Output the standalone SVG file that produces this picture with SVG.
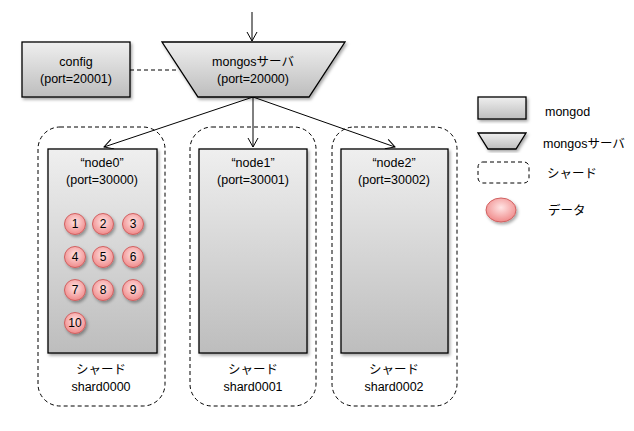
<svg xmlns="http://www.w3.org/2000/svg" width="634" height="431" viewBox="0 0 634 431">
<style>
text{font-family:"Liberation Sans","Noto Sans CJK JP",sans-serif;font-size:12.5px;fill:#000}
.c{text-anchor:middle}
.box{fill:url(#g);stroke:#000;stroke-width:1.3}
.shard{fill:none;stroke:#000;stroke-width:1;stroke-dasharray:4,3}
.data{fill:url(#pg);stroke:#d06060;stroke-width:1}
.num{font-size:12px;text-anchor:middle}
.ln{stroke:#000;stroke-width:1;fill:none}
</style>
<defs>
<linearGradient id="g" x1="0" y1="0" x2="0" y2="1"><stop offset="0" stop-color="#efefef"/><stop offset="1" stop-color="#bdbdbd"/></linearGradient>
<radialGradient id="pg" cx="0.5" cy="0.4" r="0.6"><stop offset="0" stop-color="#ffe4e4"/><stop offset="1" stop-color="#f08a8a"/></radialGradient>
<filter id="sh" x="-10%" y="-10%" width="130%" height="130%"><feDropShadow dx="1.5" dy="2" stdDeviation="1.5" flood-opacity="0.35"/></filter>
<marker id="ar" markerWidth="12" markerHeight="12" refX="10" refY="6" orient="auto" markerUnits="userSpaceOnUse"><path d="M1,1 L10,6 L1,11" fill="none" stroke="#000" stroke-width="1"/></marker>
</defs>
<g id="connectors">
<line class="ln" x1="252" y1="12" x2="252" y2="41" marker-end="url(#ar)"/>
<line class="ln" x1="130" y1="70" x2="179" y2="70" stroke-dasharray="4,3"/>
<line class="ln" x1="253" y1="97" x2="104" y2="147" marker-end="url(#ar)"/>
<line class="ln" x1="253" y1="97" x2="253" y2="147" marker-end="url(#ar)"/>
<line class="ln" x1="253" y1="97" x2="395" y2="147" marker-end="url(#ar)"/>
</g>
<g id="config">
<rect class="box" x="22" y="42" width="108" height="55" filter="url(#sh)"/>
<text class="c" x="76" y="66">config</text>
<text class="c" x="76" y="83">(port=20001)</text>
</g>
<g id="mongos">
<polygon class="box" points="162,42 345,42 309,97 198,97" filter="url(#sh)"/>
<text class="c" x="253" y="66">mongosサーバ</text>
<text class="c" x="253" y="83">(port=20000)</text>
</g>
<g id="shard0000">
<rect class="shard" x="38" y="127" width="127" height="279" rx="22"/>
<rect class="box" x="48" y="149" width="109" height="204" filter="url(#sh)"/>
<text class="c" x="102" y="167">“node0”</text>
<text class="c" x="102" y="184">(port=30000)</text>
<text class="c" x="101" y="374">シャード</text>
<text class="c" x="101" y="391">shard0000</text>
</g>
<g id="data">
<g filter="url(#sh)">
<circle class="data" cx="75" cy="224" r="10.5"/><circle class="data" cx="103" cy="224" r="10.5"/><circle class="data" cx="133" cy="224" r="10.5"/>
<circle class="data" cx="75" cy="257" r="10.5"/><circle class="data" cx="103" cy="257" r="10.5"/><circle class="data" cx="133" cy="257" r="10.5"/>
<circle class="data" cx="75" cy="290" r="10.5"/><circle class="data" cx="103" cy="290" r="10.5"/><circle class="data" cx="133" cy="290" r="10.5"/>
<circle class="data" cx="75" cy="323" r="10.5"/>
</g>
<text class="num" x="75" y="228">1</text><text class="num" x="103" y="228">2</text><text class="num" x="133" y="228">3</text>
<text class="num" x="75" y="261">4</text><text class="num" x="103" y="261">5</text><text class="num" x="133" y="261">6</text>
<text class="num" x="75" y="294">7</text><text class="num" x="103" y="294">8</text><text class="num" x="133" y="294">9</text>
<text class="num" x="75" y="327">10</text>
</g>
<g id="shard0001">
<rect class="shard" x="190" y="127" width="126" height="279" rx="22"/>
<rect class="box" x="199" y="149" width="108" height="204" filter="url(#sh)"/>
<text class="c" x="253" y="167">“node1”</text>
<text class="c" x="253" y="184">(port=30001)</text>
<text class="c" x="253" y="374">シャード</text>
<text class="c" x="253" y="391">shard0001</text>
</g>
<g id="shard0002">
<rect class="shard" x="332" y="127" width="125" height="279" rx="22"/>
<rect class="box" x="341" y="149" width="107" height="204" filter="url(#sh)"/>
<text class="c" x="394" y="167">“node2”</text>
<text class="c" x="394" y="184">(port=30002)</text>
<text class="c" x="394" y="374">シャード</text>
<text class="c" x="394" y="391">shard0002</text>
</g>
<g id="legend">
<rect class="box" x="478" y="97" width="48" height="22" filter="url(#sh)"/>
<text x="545" y="116">mongod</text>
<polygon class="box" points="478,133 526,133 516,149 488,149" filter="url(#sh)"/>
<text x="543" y="148">mongosサーバ</text>
<rect class="shard" x="478" y="162" width="51" height="21" rx="5"/>
<text x="547" y="178">シャード</text>
<ellipse class="data" cx="501" cy="210" rx="15" ry="12" filter="url(#sh)"/>
<text x="548" y="215">データ</text>
</g>
</svg>
